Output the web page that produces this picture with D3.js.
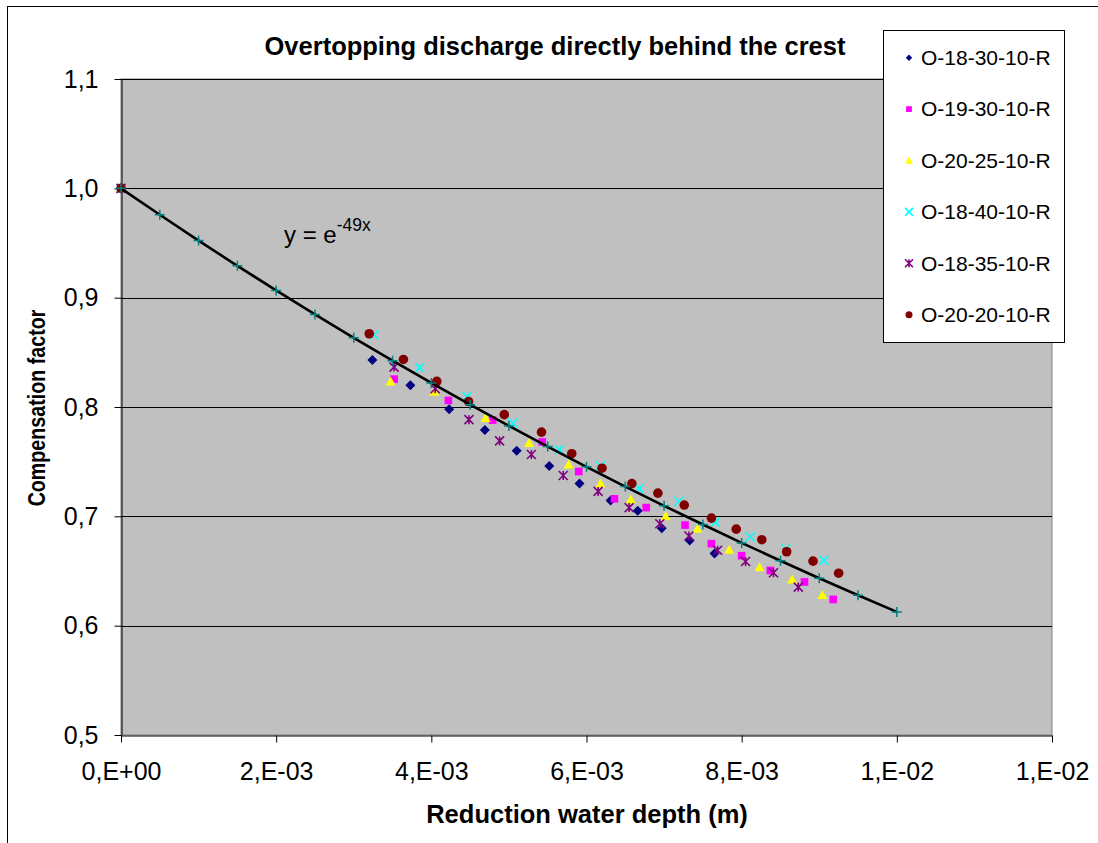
<!DOCTYPE html>
<html lang="en">
<head>
    <meta charset="UTF-8">
    <title>Overtopping discharge directly behind the crest</title>
    <style>
        body { margin: 0; padding: 0; background: #ffffff; }
        svg text { font-family: Arial, 'Liberation Sans', sans-serif; fill: #000; }
    </style>
</head>
<body>
    <svg id="chart" width="1098" height="843"></svg>

    <script src="https://d3js.org/d3.v7.min.js"></script>
    <script>
        // series data
        var s1830 = [[0, 1], [0.00324, 0.843], [0.00373, 0.820], [0.00423, 0.798], [0.00469, 0.779], [0.00510, 0.760],
            [0.00552, 0.746], [0.00591, 0.730], [0.00631, 0.7145], [0.00666, 0.705], [0.00697, 0.689], [0.00733, 0.678], [0.00765, 0.666]];
        var s1930 = [[0, 1], [0.00352, 0.8255], [0.00422, 0.806], [0.00479, 0.788], [0.00543, 0.768], [0.00590, 0.741],
            [0.00636, 0.716], [0.00677, 0.708], [0.00727, 0.692], [0.00761, 0.675], [0.00800, 0.664], [0.00837, 0.6505],
            [0.00881, 0.640], [0.00918, 0.624]];
        var s2025 = [[0, 1], [0.003475, 0.8234], [0.00404, 0.814], [0.00470, 0.790], [0.00526, 0.767], [0.00577, 0.7475],
            [0.00618, 0.730], [0.00657, 0.7155], [0.00702, 0.700], [0.00743, 0.6887], [0.00784, 0.6694], [0.00823, 0.6535],
            [0.00865, 0.6423], [0.00904, 0.628]];
        var s1840 = [[0, 1], [0.00326, 0.866], [0.00385, 0.836], [0.00446, 0.8097], [0.00505, 0.7853], [0.00565, 0.761],
            [0.00618, 0.746], [0.00668, 0.7253], [0.00719, 0.7136], [0.00766, 0.6947], [0.00811, 0.6813], [0.00857, 0.6703],
            [0.00906, 0.6597]];
        var s1835 = [[0, 1], [0.00352, 0.8365], [0.00405, 0.8167], [0.004485, 0.7884], [0.00488, 0.769], [0.00529, 0.7566],
            [0.00570, 0.7374], [0.00615, 0.7228], [0.00655, 0.708], [0.006945, 0.6932], [0.00732, 0.682], [0.00769, 0.669],
            [0.00805, 0.6587], [0.00841, 0.6484], [0.00873, 0.6353]];
        var s2020 = [[0, 1], [0.00320, 0.867], [0.00364, 0.8435], [0.00407, 0.8234], [0.00448, 0.805], [0.00494, 0.793],
            [0.00542, 0.777], [0.00581, 0.7573], [0.00620, 0.744], [0.006585, 0.730], [0.00692, 0.7212], [0.00726, 0.7103],
            [0.00761, 0.6984], [0.00793, 0.6883], [0.00826, 0.6786], [0.00858, 0.6676], [0.00892, 0.659], [0.00925, 0.648]];

        // fitted curve y = e^-49x, values as plotted
        var fitX = [0, 0.0005, 0.001, 0.0015, 0.002, 0.0025, 0.003, 0.0035, 0.004, 0.0045, 0.005,
            0.0055, 0.006, 0.0065, 0.007, 0.0075, 0.008, 0.0085, 0.009, 0.0095, 0.01];
        var fitY = [1, 0.9758, 0.9522, 0.9291, 0.9066, 0.8847, 0.8633, 0.8424, 0.8220, 0.8021, 0.7827,
            0.7638, 0.7453, 0.7272, 0.7096, 0.6925, 0.6757, 0.6594, 0.6434, 0.6278, 0.6126];

        var seriesNames = ['O-18-30-10-R', 'O-19-30-10-R', 'O-20-25-10-R', 'O-18-40-10-R', 'O-18-35-10-R', 'O-20-20-10-R'];
        var seriesData = [s1830, s1930, s2025, s1840, s1835, s2020];
        var seriesColors = ['#000080', '#ff00ff', '#ffff00', '#00ffff', '#800080', '#800000'];
        var seriesShapes = ['diamond', 'square', 'triangle', 'cross', 'star', 'circle'];

        var xTicks = [0, 0.002, 0.004, 0.006, 0.008, 0.010, 0.012];
        var xTickLabels = ['0,E+00', '2,E-03', '4,E-03', '6,E-03', '8,E-03', '1,E-02', '1,E-02'];
        var yTicks = [0.5, 0.6, 0.7, 0.8, 0.9, 1.0, 1.1];
        var yTickLabels = ['0,5', '0,6', '0,7', '0,8', '0,9', '1,0', '1,1'];

        var plot = { left: 121, right: 1052, top: 79, bottom: 735 };

        var svg = d3.select('#chart');

        // outer chart border
        svg.append('rect')
            .attr('x', 7.5).attr('y', 6.5)
            .attr('width', 1100).attr('height', 850)
            .attr('fill', '#fff').attr('stroke', '#000');

        var x = d3.scaleLinear().domain([0, 0.012]).range([plot.left, plot.right]);
        var y = d3.scaleLinear().domain([0.5, 1.1]).range([plot.bottom, plot.top]);

        // plot area
        svg.append('rect')
            .attr('x', plot.left).attr('y', plot.top)
            .attr('width', plot.right - plot.left).attr('height', plot.bottom - plot.top)
            .attr('fill', '#c0c0c0').attr('stroke', '#808080');

        // gridlines
        svg.append('g')
            .selectAll('line')
            .data(yTicks.slice(1))
            .enter()
            .append('line')
            .attr('x1', plot.left).attr('x2', plot.right)
            .attr('y1', d => Math.round(y(d)) + 0.5).attr('y2', d => Math.round(y(d)) + 0.5)
            .attr('stroke', '#000');

        // axes
        var xAxis = svg.append('g')
            .attr('transform', 'translate(0,' + (plot.bottom + 0.5) + ')')
            .call(d3.axisBottom(x).tickValues(xTicks).tickSizeInner(7).tickSizeOuter(0)
                .tickFormat((d, i) => xTickLabels[i]));
        var yAxis = svg.append('g')
            .attr('transform', 'translate(' + (plot.left + 0.5) + ',0)')
            .call(d3.axisLeft(y).tickValues(yTicks).tickSizeInner(7).tickSizeOuter(0)
                .tickFormat((d, i) => yTickLabels[i]));

        [xAxis, yAxis].forEach(function(ax) {
            ax.select('.domain').attr('stroke', '#000');
            ax.selectAll('.tick line').attr('stroke', '#000');
            ax.selectAll('.tick text')
                .style('font-family', 'Arial, "Liberation Sans", sans-serif')
                .style('font-size', '25px')
                .attr('fill', '#000');
        });
        xAxis.selectAll('.tick text').attr('y', 27);
        yAxis.selectAll('.tick text').attr('x', -23);

        // marker shapes
        function marker(sel, shape, color, s) {
            if (shape === 'diamond') {
                sel.append('path').attr('d', 'M0,' + (-s) + 'L' + s + ',0L0,' + s + 'L' + (-s) + ',0Z').attr('fill', color);
            } else if (shape === 'square') {
                sel.append('rect').attr('x', -s * 0.85).attr('y', -s * 0.85).attr('width', s * 1.7).attr('height', s * 1.7).attr('fill', color);
            } else if (shape === 'triangle') {
                sel.append('path').attr('d', 'M0,' + (-s) + 'L' + s + ',' + (s * 0.8) + 'L' + (-s) + ',' + (s * 0.8) + 'Z').attr('fill', color);
            } else if (shape === 'cross') {
                sel.append('path').attr('d', 'M' + (-s) + ',' + (-s) + 'L' + s + ',' + s + 'M' + (-s) + ',' + s + 'L' + s + ',' + (-s))
                    .attr('stroke', color).attr('stroke-width', 1.6).attr('fill', 'none');
            } else if (shape === 'star') {
                sel.append('path').attr('d', 'M' + (-s) + ',' + (-s) + 'L' + s + ',' + s + 'M' + (-s) + ',' + s + 'L' + s + ',' + (-s) + 'M0,' + (-s) + 'L0,' + s)
                    .attr('stroke', color).attr('stroke-width', 1.6).attr('fill', 'none');
            } else if (shape === 'circle') {
                sel.append('circle').attr('r', s).attr('fill', color);
            }
        }

        var markerSize = [5, 4.5, 5, 4.5, 4.5, 4.8];

        seriesData.forEach(function(data, k) {
            svg.append('g')
                .selectAll('g')
                .data(data)
                .enter()
                .append('g')
                .attr('transform', d => 'translate(' + x(d[0]) + ',' + y(d[1]) + ')')
                .each(function() { marker(d3.select(this), seriesShapes[k], seriesColors[k], markerSize[k]); });
        });

        // fitted curve with its markers
        var fit = fitX.map((v, i) => [v, fitY[i]]);
        svg.append('path')
            .datum(fit)
            .attr('d', d3.line().x(d => x(d[0])).y(d => y(d[1])))
            .attr('fill', 'none')
            .attr('stroke', '#000')
            .attr('stroke-width', 2.6);
        svg.append('g')
            .selectAll('path')
            .data(fit)
            .enter()
            .append('path')
            .attr('transform', d => 'translate(' + x(d[0]) + ',' + y(d[1]) + ')')
            .attr('d', 'M-5,0L5,0M0,-5L0,5')
            .attr('stroke', '#008080')
            .attr('stroke-width', 1.5);

        // equation label
        var eq = svg.append('text')
            .attr('x', 284).attr('y', 243)
            .style('font-size', '24px');
        eq.append('tspan').text('y = e');
        eq.append('tspan').attr('dy', -12).style('font-size', '17.5px').text('-49x');

        // title
        svg.append('text')
            .attr('x', 555).attr('y', 55)
            .attr('text-anchor', 'middle')
            .style('font-size', '25.5px')
            .style('font-weight', 'bold')
            .text('Overtopping discharge directly behind the crest');

        // axis titles
        svg.append('text')
            .attr('x', 587).attr('y', 823)
            .attr('text-anchor', 'middle')
            .style('font-size', '25.5px')
            .style('font-weight', 'bold')
            .text('Reduction water depth (m)');
        svg.append('text')
            .attr('transform', 'translate(45,408) rotate(-90) scale(0.82,1)')
            .attr('text-anchor', 'middle')
            .style('font-size', '24px')
            .style('font-weight', 'bold')
            .text('Compensation factor');

        // legend
        var legendBox = svg.append('g');
        legendBox.append('rect')
            .attr('x', 883.5).attr('y', 30.5)
            .attr('width', 181).attr('height', 312)
            .attr('fill', '#fff').attr('stroke', '#000');
        var legend = legendBox.selectAll('.legend')
            .data(seriesNames)
            .enter()
            .append('g')
            .attr('class', 'legend')
            .attr('transform', (d, i) => 'translate(909,' + (57.7 + i * 51.4) + ')');
        legend.each(function(d, i) {
            var ls = [3.2, 3.4, 4, 4, 4, 3.5][i];
            marker(d3.select(this), seriesShapes[i], seriesColors[i], ls);
        });
        legend.append('text')
            .attr('x', 12)
            .attr('dy', '0.35em')
            .style('font-size', '21px')
            .text(d => d);
    </script>
</body>
</html>
